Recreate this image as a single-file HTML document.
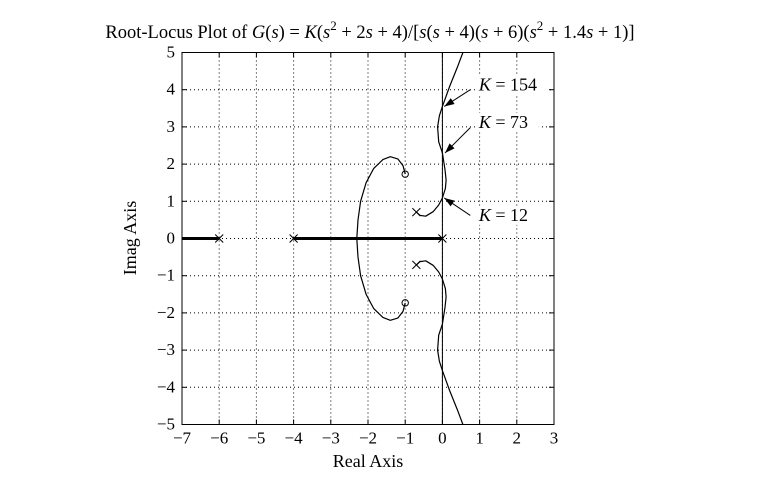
<!DOCTYPE html>
<html><head><meta charset="utf-8"><style>
body{margin:0;background:#fff}
svg text{font-family:"Liberation Serif",serif;fill:#000}
</style></head><body>
<svg width="776" height="479" viewBox="0 0 776 479">
<text x="370" y="38" font-size="18.5" text-anchor="middle">Root-Locus Plot of <tspan font-style="italic">G</tspan>(<tspan font-style="italic">s</tspan>) = <tspan font-style="italic">K</tspan>(<tspan font-style="italic">s</tspan><tspan dy="-8" font-size="13">2</tspan><tspan dy="8"> + 2</tspan><tspan font-style="italic">s</tspan> + 4)/[<tspan font-style="italic">s</tspan>(<tspan font-style="italic">s</tspan> + 4)(<tspan font-style="italic">s</tspan> + 6)(<tspan font-style="italic">s</tspan><tspan dy="-8" font-size="13">2</tspan><tspan dy="8"> + 1.4</tspan><tspan font-style="italic">s</tspan> + 1)]</text>
<g id="grid"></g>
<g id="plot"></g>
<g id="axes"></g>
<text x="368" y="467" font-size="18" text-anchor="middle">Real Axis</text>
<text transform="translate(136,238) rotate(-90)" font-size="18" text-anchor="middle">Imag Axis</text>
</svg>
<script>
const xTicks=[-7,-6,-5,-4,-3,-2,-1,0,1,2,3];
const yTicks=[5,4,3,2,1,0,-1,-2,-3,-4,-5];
const poles=[[0,0],[-4,0],[-6,0],[-0.7,0.71],[-0.7,-0.71]];
const zeros=[[-1,1.73],[-1,-1.73]];
const realSegments=[[-7,-6],[-4,0]];
const branchA=[[-0.7,0.71],[-0.6,0.62],[-0.45,0.6],[-0.25,0.72],[-0.1,0.9],[0,1.09],[0.08,1.35],[0.1,1.57],[0.07,1.85],[0,2.3],[-0.1,2.6],[-0.13,3.0],[-0.08,3.3],[0,3.55],[0.2,4.1],[0.4,4.6],[0.55,5.0]];
const branchB=[[-2.3,0],[-2.27,0.5],[-2.2,1.0],[-2.05,1.5],[-1.85,1.88],[-1.6,2.12],[-1.4,2.2],[-1.2,2.14],[-1.06,1.96],[-1,1.73]];
const labels=[{t:"154",x:0.98,y:4.0,ax:0.75,ay:4.0,bx:0.05,by:3.55},{t:"73",x:0.98,y:3.0,ax:0.75,ay:2.98,bx:0.07,by:2.3},{t:"12",x:0.98,y:0.5,ax:0.75,ay:0.62,bx:0.05,by:1.09}];
const X0=182,X1=554,Y0=52.5,Y1=424.5;
const sx=v=>X0+(v+7)/10*(X1-X0);
const sy=v=>Y0+(5-v)/10*(Y1-Y0);
const NS="http://www.w3.org/2000/svg";
function mk(p,tag,a){const e=document.createElementNS(NS,tag);for(const k in a)e.setAttribute(k,a[k]);p.appendChild(e);return e;}
const grid=document.getElementById('grid'),plot=document.getElementById('plot'),axes=document.getElementById('axes');
xTicks.forEach(v=>{
 if(v>-7&&v<3){const l=mk(grid,'line',{x1:sx(v),x2:sx(v),y1:Y0,y2:Y1,stroke:'#000','stroke-width':1,'stroke-dasharray':'1,3'});
 }
 const t=mk(axes,'text',{x:sx(v),y:Y1+19,'font-size':17,'text-anchor':'middle'});t.textContent=(v<0?'\u2212'+(-v):v);
 
 mk(axes,'line',{x1:sx(v),x2:sx(v),y1:Y1,y2:Y1-5,stroke:'#000'});mk(axes,'line',{x1:sx(v),x2:sx(v),y1:Y0,y2:Y0+5,stroke:'#000'});
});
yTicks.forEach(v=>{
 if(v>-5&&v<5){const l=mk(grid,'line',{x1:X0,x2:X1,y1:sy(v),y2:sy(v),stroke:'#000','stroke-width':1,'stroke-dasharray':'1,3'});
 }
 const t=mk(axes,'text',{x:X0-7,y:sy(v)+5,'font-size':17,'text-anchor':'end'});t.textContent=(v<0?'\u2212'+(-v):v);
 
 mk(axes,'line',{x1:X0,x2:X0+5,y1:sy(v),y2:sy(v),stroke:'#000'});mk(axes,'line',{x1:X1,x2:X1-5,y1:sy(v),y2:sy(v),stroke:'#000'});
});
const fr=mk(axes,'rect',{x:X0,y:Y0,width:X1-X0,height:Y1-Y0,fill:'none',stroke:'#000','stroke-width':1});

const va=mk(plot,'line',{x1:sx(0),x2:sx(0),y1:Y0,y2:Y1,stroke:'#000','stroke-width':1});

realSegments.forEach(s=>{const l=mk(plot,'line',{x1:sx(s[0]),x2:sx(s[1]),y1:sy(0),y2:sy(0),stroke:'#000','stroke-width':3});
 });
function curve(pts,sign,name){
 const d=pts.map((p,i)=>(i?'L':'M')+sx(p[0]).toFixed(1)+','+sy(sign*p[1]).toFixed(1)).join(' ');
 const e=mk(plot,'path',{d:d,fill:'none',stroke:'#000','stroke-width':1.2,'stroke-linejoin':'round'});
 }
curve(branchA,1,'locus-branch-upper');curve(branchA,-1,'locus-branch-lower');
curve(branchB,1,'locus-zero-branch-upper');curve(branchB,-1,'locus-zero-branch-lower');
poles.forEach(p=>{const g=mk(plot,'g',{stroke:'#000','stroke-width':1});
 
 const x=sx(p[0]),y=sy(p[1]);mk(g,'line',{x1:x-4,y1:y-4,x2:x+4,y2:y+4});mk(g,'line',{x1:x-4,y1:y+4,x2:x+4,y2:y-4});});
zeros.forEach(p=>{const c=mk(plot,'circle',{cx:sx(p[0]),cy:sy(p[1]),r:3.2,fill:'none',stroke:'#000'});
 });
labels.forEach(L=>{
 const x1=sx(L.ax),y1=sy(L.ay),x2=sx(L.bx),y2=sy(L.by);
 const ln=mk(plot,'line',{x1:x1,y1:y1,x2:x2,y2:y2,stroke:'#000','stroke-width':1});
 
 const a=Math.atan2(y2-y1,x2-x1),h=10,w=3.5;
 const bx=x2-h*Math.cos(a),by=y2-h*Math.sin(a);
 const pts=[[x2,y2],[bx+w*Math.sin(a),by-w*Math.cos(a)],[bx-w*Math.sin(a),by+w*Math.cos(a)]];
 const hd=mk(plot,'polygon',{points:pts.map(p=>p.join(',')).join(' '),fill:'#000'});
 
 const bg=mk(plot,'rect',{x:sx(L.x)-2,y:sy(L.y)-14,width:L.t.length*9+44,height:19,fill:'#fff'});
 const t=mk(plot,'text',{x:sx(L.x),y:sy(L.y)+1,'font-size':18});
 t.innerHTML='<tspan font-style="italic">K</tspan> = '+L.t;
 
});
</script>
</body></html>
